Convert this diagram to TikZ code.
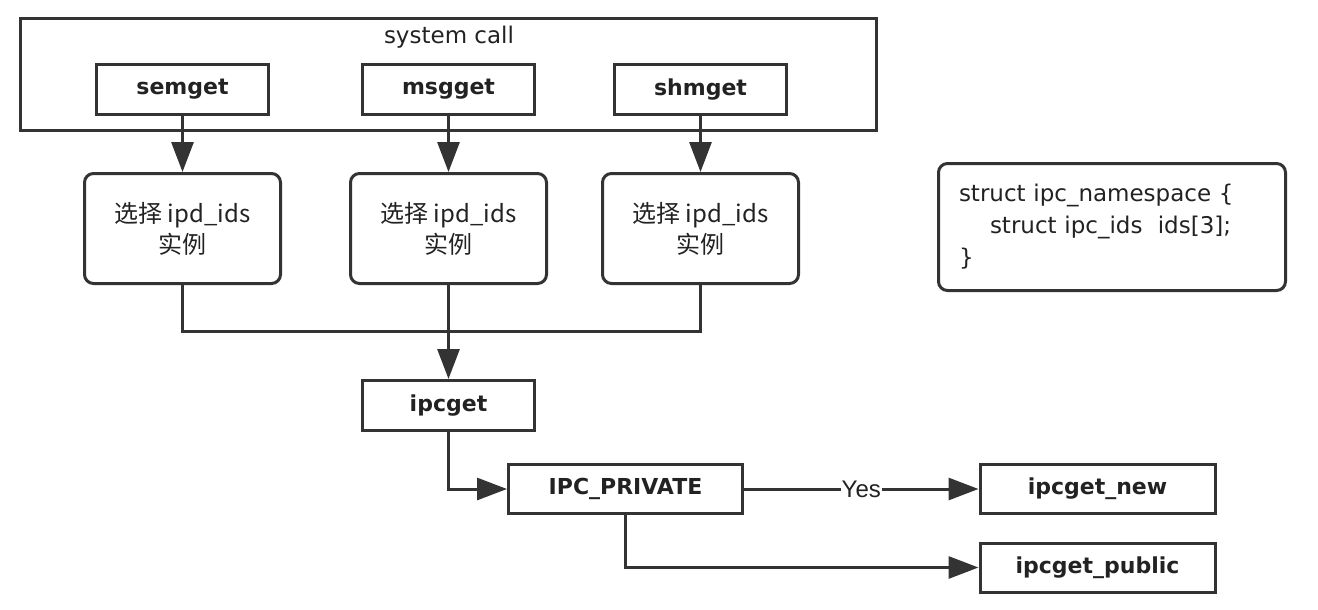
\documentclass[tikz,border=0pt]{standalone}
\usepackage{fontspec}
\setmainfont{DejaVu Sans}
\newfontfamily\cjk{Noto Sans CJK SC}
\newfontfamily\yesfont{Liberation Sans}
\usetikzlibrary{arrows.meta}
\definecolor{ln}{HTML}{333333}
\definecolor{tx}{HTML}{222222}
\begin{document}
\begin{tikzpicture}[x=1pt,y=-1pt,
  box/.style={draw=ln, line width=3pt, inner sep=0pt, text=tx, minimum width=172pt, minimum height=50pt, font=\bfseries\fontsize{22}{26}\selectfont},
  wbox/.style={box, minimum width=235pt, minimum height=49pt},
  rbox/.style={draw=ln, line width=3pt, inner sep=0pt, text=tx, rounded corners=9pt, minimum width=196pt, minimum height=110pt, align=center, font=\cjk\fontsize{24}{31}\selectfont},
  conn/.style={draw=ln, line width=3pt},
  arr/.style={conn, -{Triangle[length=30pt,width=22pt]}},
  plain/.style={text=tx, inner sep=0pt}
]
\useasboundingbox (0,0) rectangle (1318,610);
% system call frame
\node[draw=ln, line width=3pt, inner sep=0pt, minimum width=856pt, minimum height=112pt] (sys) at (448.5,74.5) {};
\node[plain, font=\fontsize{23}{28}\selectfont] (syslabel) at (449,37) {system call};
\node[box] (semget) at (182.5,89.5) {semget};
\node[box] (msgget) at (448.5,89.5) {msgget};
\node[box] (shmget) at (700.5,89.5) {shmget};
% selection boxes
\node[rbox] (sel1) at (182.5,228.5) {选择 ipd\_ids\\实例};
\node[rbox] (sel2) at (448.5,228.5) {选择 ipd\_ids\\实例};
\node[rbox] (sel3) at (700.5,228.5) {选择 ipd\_ids\\实例};
% lower flow
\node[box] (ipcget) at (448.5,405.5) {ipcget};
\node[box, minimum width=234pt, minimum height=49pt] (priv) at (625.5,489) {IPC\_PRIVATE};
\node[wbox] (new) at (1097.5,489) {ipcget\_new};
\node[wbox] (pub) at (1097.5,567.5) {ipcget\_public};
% struct note
\node[draw=ln, line width=3pt, inner sep=0pt, rounded corners=9pt, minimum width=347pt, minimum height=127pt, text width=306pt, align=left, text=tx, font=\fontsize{23}{32}\selectfont] (note) at (1112,227)
  {struct ipc\_namespace \{\\\hspace*{31pt}struct ipc\_ids\ \ ids[3];\\\}};
% connectors
\draw[arr] (semget.south) -- (sel1.north);
\draw[arr] (msgget.south) -- (sel2.north);
\draw[arr] (shmget.south) -- (sel3.north);
\coordinate (merge) at (448.5,331);
\draw[conn] (sel1.south) |- (merge) -| (sel3.south);
\draw[arr] (sel2.south) -- (ipcget.north);
\draw[arr] (ipcget.south) |- (priv.west);
\draw[arr] (priv.east) -- node[fill=white, inner sep=1pt, text=tx, font=\yesfont\fontsize{24}{28}\selectfont] (yes) {Yes} (new.west);
\draw[arr] (priv.south) |- (pub.west);
\end{tikzpicture}
\end{document}
